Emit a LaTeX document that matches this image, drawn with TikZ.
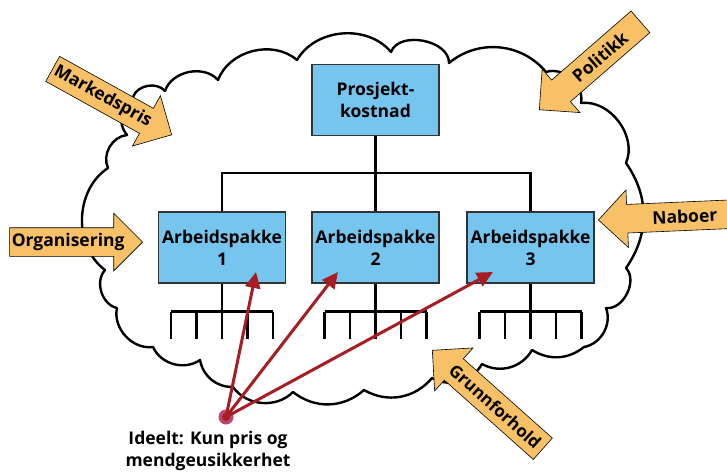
\documentclass[tikz,border=0pt]{standalone}
\usepackage{fontspec}
\setmainfont{Open Sans}
\usetikzlibrary{shapes.arrows,arrows.meta,calc}
\definecolor{boxblue}{RGB}{117,197,238}
\definecolor{orangefill}{RGB}{248,193,104}
\definecolor{redarrow}{RGB}{166,29,36}
\definecolor{dothalo}{RGB}{190,70,110}
\begin{document}
\begin{tikzpicture}[x=1pt,y=-1pt,
  cloudline/.style={draw=black, line width=2.4pt, fill=white, line join=round},
  treeline/.style={draw=black, line width=2.4pt},
  box/.style={draw=black!80, line width=1.2pt, fill=boxblue, minimum width=127pt, minimum height=71pt, align=center, inner sep=0pt, font=\fontsize{17.5}{22}\selectfont\bfseries},
  orangearrow/.style={single arrow, draw=black, line width=0.6pt, fill=orangefill, single arrow head extend=14.5pt, single arrow tip angle=90, text height=13pt, text depth=4pt, inner ysep=5.5pt, inner xsep=0pt, anchor=tip},
  arrowtext/.style={font=\fontsize{17.5}{18}\selectfont\bfseries, inner sep=0pt},
  redline/.style={draw=redarrow, line width=3pt, -{Triangle[length=16pt,width=15pt]}},
  label/.style={align=center, font=\fontsize{17.5}{22}\selectfont\bfseries}
]
\useasboundingbox (0,0) rectangle (727,475);
% cloud
\path[cloudline] (133,97) to[bend left=60] (165,91) to[bend left=60] (218,80)
  to[bend left=55] (297,60) to[bend left=55] (391,52) to[bend left=80] (449,63)
  to[bend left=45] (546,72) to[bend left=60] (581,103) to[bend left=60] (626,163)
  to[bend left=35] (626,268) to[bend left=70] (606,308) to[bend left=50] (584,347)
  to[bend left=35] (532,350) to[bend left=45] (482,364) to[bend left=45] (432,378)
  to[bend left=40] (364,390) to[bend left=40] (293,392) to[bend left=50] (233,387)
  to[bend left=40] (200,360) to[bend left=50] (153,347) to[bend left=55] (117,308)
  to[bend left=60] (105,270) to[bend left=55] (108,168) to[bend left=55] (127,135)
  to[bend left=50] (133,97);
% boxes
\node[box] (pk) at (375.5,100) {Prosjekt-\\kostnad};
\node[box] (ap1) at (222,247.5) {Arbeidspakke\\1};
\node[box] (ap2) at (375.5,247.5) {Arbeidspakke\\2};
\node[box] (ap3) at (530.5,247.5) {Arbeidspakke\\3};
% tree
\draw[treeline] (pk.south) -- ++(0,37) coordinate (hub);
\draw[treeline] (ap1.north) |- (hub) -| (ap3.north);
\draw[treeline] (hub) -- (ap2.north);
\foreach \b in {ap1,ap2,ap3} {
  \draw[treeline] (\b.south) -- ++(0,28) coordinate (\b-h);
  \draw[treeline] ([xshift=-51pt]\b-h) -- ([xshift=51pt]\b-h);
  \foreach \dx in {-51,-25.5,0,25.5,51}
    \draw[treeline] ([xshift=\dx pt]\b-h) -- ++(0,27);
}
% orange arrows
\node[orangearrow, minimum height=136pt, rotate=-29] (mp) at (172,135) {};
\node[arrowtext, rotate=-29] (mpt) at ($(mp.tip)!0.58!(mp.tail)$) {Markedspris};
\node[orangearrow, minimum height=134pt, shape border rotate=180, rotate=41] (pol) at (539,110) {};
\node[arrowtext, rotate=41] (polt) at ($(pol.tip)!0.6!(pol.tail)$) {Politikk};
\node[orangearrow, minimum height=133pt] (org) at (143,242) {};
\node[arrowtext] (orgt) at ($(org.tip)!0.56!(org.tail)$) {Organisering};
\node[orangearrow, minimum height=135pt, shape border rotate=180, rotate=2.5] (nab) at (598,220) {};
\node[arrowtext, rotate=2.5] (nabt) at ($(nab.tip)!0.64!(nab.tail)$) {Naboer};
\node[orangearrow, minimum height=148pt, shape border rotate=180, rotate=-41.7] (gf) at (432,350) {};
\node[arrowtext, rotate=-41.7, font=\fontsize{17}{18}\selectfont\bfseries] (gft) at ($(gf.tip)!0.57!(gf.tail)$) {Grunnforhold};
% dot and red arrows
\coordinate (t1) at (256,272);
\coordinate (t2) at (338,272);
\coordinate (t3) at (493,272);
\node[circle, fill=dothalo, minimum size=15pt, inner sep=0pt] (dot) at (226,417) {};
\draw[redline] (dot.center) -- (t1);
\draw[redline] (dot.center) -- (t2);
\draw[redline] (dot.center) -- (t3);
\fill[redarrow] (dot.center) circle (4pt);
\node[label] (lbl) at (208,451) {Ideelt: Kun pris og\\mendgeusikkerhet};
\end{tikzpicture}
\end{document}
